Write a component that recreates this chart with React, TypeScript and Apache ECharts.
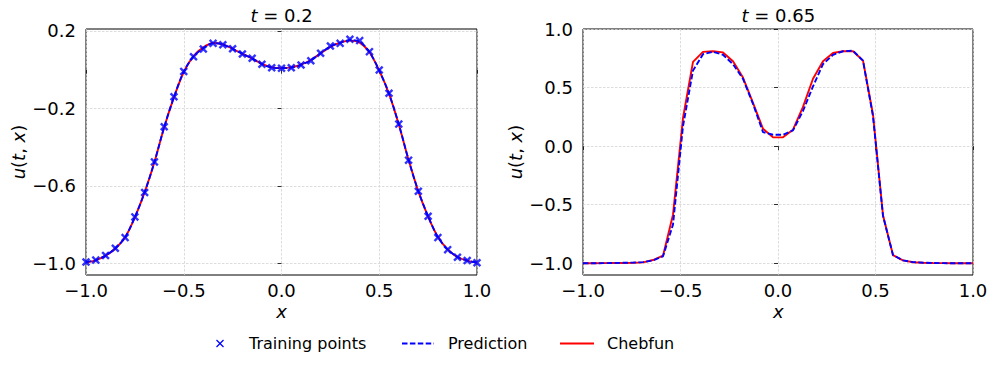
import React, { useEffect, useRef } from 'react';
import * as echarts from 'echarts';

// ---------- data ----------
const leftX = [
  -1.0, -0.95, -0.9, -0.85, -0.8, -0.75, -0.7, -0.65, -0.6, -0.55, -0.5,
  -0.45, -0.4, -0.35, -0.3, -0.25, -0.2, -0.15, -0.1, -0.05, 0.0,
  0.05, 0.1, 0.15, 0.2, 0.25, 0.3, 0.35, 0.4, 0.45, 0.5,
  0.55, 0.6, 0.65, 0.7, 0.75, 0.8, 0.85, 0.9, 0.95, 1.0,
];
const leftTraining = [
  -0.993, -0.983, -0.959, -0.922, -0.867, -0.76, -0.634, -0.476, -0.295, -0.14, -0.009,
  0.067, 0.107, 0.136, 0.129, 0.108, 0.081, 0.059, 0.028, 0.01, 0.007,
  0.01, 0.024, 0.046, 0.085, 0.122, 0.136, 0.157, 0.15, 0.093, -0.002,
  -0.122, -0.281, -0.467, -0.628, -0.757, -0.867, -0.929, -0.968, -0.985, -0.997,
];
const leftPrediction = [
  -0.994, -0.983, -0.96, -0.922, -0.866, -0.761, -0.633, -0.477, -0.296, -0.141, -0.01,
  0.068, 0.111, 0.137, 0.13, 0.108, 0.082, 0.058, 0.029, 0.011, 0.008,
  0.011, 0.025, 0.048, 0.085, 0.12, 0.138, 0.153, 0.145, 0.091, -0.004,
  -0.124, -0.282, -0.466, -0.628, -0.757, -0.865, -0.928, -0.967, -0.986, -0.996,
];
const leftChebfun = [
  -0.995, -0.984, -0.96, -0.923, -0.865, -0.762, -0.632, -0.478, -0.297, -0.142, -0.012,
  0.07, 0.115, 0.138, 0.131, 0.108, 0.082, 0.057, 0.03, 0.012, 0.008,
  0.012, 0.026, 0.05, 0.085, 0.118, 0.14, 0.15, 0.14, 0.09, -0.005,
  -0.125, -0.283, -0.465, -0.628, -0.758, -0.863, -0.928, -0.967, -0.986, -0.996,
];

const rightX = [
  -1.0, -0.9487, -0.8974, -0.8462, -0.7949, -0.7436, -0.6923, -0.641, -0.5897, -0.5385,
  -0.4872, -0.4359, -0.3846, -0.3333, -0.2821, -0.2308, -0.1795, -0.1282, -0.0769, -0.0256,
  0.0256, 0.0769, 0.1282, 0.1795, 0.2308, 0.2821, 0.3333, 0.3846, 0.4359, 0.4872,
  0.5385, 0.5897, 0.641, 0.6923, 0.7436, 0.7949, 0.8462, 0.8974, 0.9487, 1.0,
];
const rightPrediction = [
  -1.0, -1.0, -0.999, -0.998, -0.996, -0.994, -0.99, -0.975, -0.94, -0.67,
  0.17, 0.645, 0.785, 0.805, 0.78, 0.7, 0.575, 0.36, 0.12, 0.097,
  0.097, 0.135, 0.3, 0.51, 0.7, 0.78, 0.81, 0.815, 0.73, 0.255,
  -0.596, -0.93, -0.975, -0.99, -0.995, -0.998, -0.999, -1.0, -1.0, -1.0,
];
const rightChebfun = [
  -1.0, -1.0, -0.999, -0.998, -0.997, -0.996, -0.992, -0.972, -0.935, -0.585,
  0.24, 0.72, 0.805, 0.81, 0.8, 0.725, 0.585, 0.37, 0.148, 0.075,
  0.075, 0.14, 0.335, 0.575, 0.724, 0.795, 0.81, 0.81, 0.73, 0.27,
  -0.59, -0.93, -0.975, -0.991, -0.996, -0.998, -0.999, -1.0, -1.0, -1.0,
];

const xTicks = [-1.0, -0.5, 0.0, 0.5, 1.0];
const leftYTicks = [-1.0, -0.6, -0.2, 0.2];
const rightYTicks = [-1.0, -0.5, 0.0, 0.5, 1.0];
const titleValues = ['0.2', '0.65'];
const legendLabels = ['Training points', 'Prediction', 'Chebfun'];

// ---------- styles ----------
const FONT = 'DejaVu Sans';
const TICK_SIZE = 18;
const LEGEND_SIZE = 16;
const RED = '#ff0000';
const BLUE = '#0000ff';
const LINE_W = 1.9;
const DASH = [5.5, 2.4];
const X_SYMBOL =
  'path://M0,2 L2,0 L5,3 L8,0 L10,2 L7,5 L10,8 L8,10 L5,7 L2,10 L0,8 L3,5 Z';

const fmt = (v: number) => (v < 0 ? '\u2212' : '') + Math.abs(v).toFixed(1);
const pairs = (xs: number[], ys: number[]) => xs.map((x, i) => [x, ys[i]]);

const splitLine = {
  show: true,
  lineStyle: { color: '#d3d3d3', width: 0.8, type: [2.5, 1.5] },
};

function xAxis(gridIndex: number) {
  return {
    type: 'value',
    gridIndex,
    min: xTicks[0],
    max: xTicks[xTicks.length - 1],
    interval: 0.5,
    axisLine: { show: false },
    axisTick: { show: true, length: 4, lineStyle: { color: '#000', width: 0.8 } },
    axisLabel: {
      fontFamily: FONT,
      fontSize: TICK_SIZE,
      color: '#000',
      margin: 6,
      showMinLabel: true,
      showMaxLabel: true,
      formatter: fmt,
    },
    splitLine,
  };
}

function yAxis(gridIndex: number, min: number, max: number, ticks: number[]) {
  return {
    type: 'value',
    gridIndex,
    min,
    max,
    axisLine: { show: false },
    axisTick: {
      show: true,
      length: 4,
      customValues: ticks,
      lineStyle: { color: '#000', width: 0.8 },
    },
    axisLabel: {
      fontFamily: FONT,
      fontSize: TICK_SIZE,
      color: '#000',
      margin: 10,
      customValues: ticks,
      formatter: fmt,
    },
    splitLine,
  };
}

function textEl(text: string, x: number, y: number, size: number, extra: any = {}) {
  return {
    type: 'text',
    x,
    y,
    ...extra,
    style: {
      text,
      fontFamily: FONT,
      fontSize: size,
      fill: '#000',
      align: extra.align || 'center',
      verticalAlign: 'middle',
      rich: {
        i: { fontFamily: FONT, fontSize: size, fontStyle: 'italic', fill: '#000' },
      },
    },
  };
}

export default function App() {
  const ref = useRef<HTMLDivElement>(null);

  useEffect(() => {
    if (!ref.current) return;
    const chart = echarts.init(ref.current, null, { renderer: 'svg' });

    const legendY = 343.5;
    const option: any = {
      animation: false,
      backgroundColor: '#ffffff',
      grid: [
        { left: 86, top: 29, width: 391, height: 246, show: true, borderColor: '#000', borderWidth: 1 },
        { left: 583, top: 29, width: 390, height: 246, show: true, borderColor: '#000', borderWidth: 1 },
      ],
      xAxis: [xAxis(0), xAxis(1)],
      yAxis: [yAxis(0, -1.06, 0.21, leftYTicks), yAxis(1, -1.1, 1.0, rightYTicks)],
      series: [
        {
          name: legendLabels[2],
          type: 'line',
          xAxisIndex: 0,
          yAxisIndex: 0,
          data: pairs(leftX, leftChebfun),
          symbol: 'none',
          smooth: 0.3,
          lineStyle: { color: RED, width: LINE_W },
          z: 2,
        },
        {
          name: legendLabels[1],
          type: 'line',
          xAxisIndex: 0,
          yAxisIndex: 0,
          data: pairs(leftX, leftPrediction),
          symbol: 'none',
          smooth: 0.3,
          lineStyle: { color: BLUE, width: LINE_W, type: DASH },
          z: 3,
        },
        {
          name: legendLabels[0],
          type: 'scatter',
          xAxisIndex: 0,
          yAxisIndex: 0,
          data: pairs(leftX, leftTraining),
          symbol: X_SYMBOL,
          symbolSize: 8.5,
          itemStyle: { color: BLUE },
          clip: false,
          z: 4,
        },
        {
          name: legendLabels[2],
          type: 'line',
          xAxisIndex: 1,
          yAxisIndex: 1,
          data: pairs(rightX, rightChebfun),
          symbol: 'none',
          lineStyle: { color: RED, width: LINE_W },
          z: 2,
        },
        {
          name: legendLabels[1],
          type: 'line',
          xAxisIndex: 1,
          yAxisIndex: 1,
          data: pairs(rightX, rightPrediction),
          symbol: 'none',
          lineStyle: { color: BLUE, width: LINE_W, type: DASH },
          z: 3,
        },
      ],
      graphic: [
        textEl(`{i|t} = ${titleValues[0]}`, 281.5, 15, TICK_SIZE),
        textEl(`{i|t} = ${titleValues[1]}`, 778.3, 15, TICK_SIZE),
        textEl('{i|x}', 281.5, 311, TICK_SIZE),
        textEl('{i|x}', 778.3, 311, TICK_SIZE),
        textEl('{i|u}({i|t}, {i|x})', 18.5, 152, TICK_SIZE, { rotation: Math.PI / 2 }),
        textEl('{i|u}({i|t}, {i|x})', 515.5, 152, TICK_SIZE, { rotation: Math.PI / 2 }),
        // legend
        {
          type: 'line',
          shape: { x1: 216.5, y1: legendY - 3.5, x2: 223.5, y2: legendY + 3.5 },
          style: { stroke: BLUE, lineWidth: 1.2 },
        },
        {
          type: 'line',
          shape: { x1: 216.5, y1: legendY + 3.5, x2: 223.5, y2: legendY - 3.5 },
          style: { stroke: BLUE, lineWidth: 1.2 },
        },
        textEl(legendLabels[0], 249, legendY, LEGEND_SIZE, { align: 'left' }),
        {
          type: 'line',
          shape: { x1: 402, y1: legendY, x2: 434, y2: legendY },
          style: { stroke: BLUE, lineWidth: LINE_W, lineDash: DASH },
        },
        textEl(legendLabels[1], 448, legendY, LEGEND_SIZE, { align: 'left' }),
        {
          type: 'line',
          shape: { x1: 560, y1: legendY, x2: 594, y2: legendY },
          style: { stroke: RED, lineWidth: LINE_W },
        },
        textEl(legendLabels[2], 607, legendY, LEGEND_SIZE, { align: 'left' }),
      ],
    };

    chart.setOption(option);
    return () => chart.dispose();
  }, []);

  return (
    <div
      ref={ref}
      style={{ position: 'fixed', left: 0, top: 0, width: 997, height: 370, background: '#fff' }}
    />
  );
}
